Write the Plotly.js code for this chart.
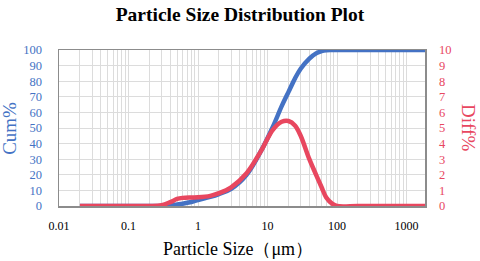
<!DOCTYPE html>
<html>
<head>
<meta charset="utf-8">
<script src="https://cdn.plot.ly/plotly-3.0.1.min.js"></script>
<style>html,body{margin:0;padding:0;background:#fff;}#chart{width:480px;height:261px;}</style>
</head>
<body>
<div id="chart"></div>
<script>
// Particle sizes (µm)
var sizes = [0.02, 0.05, 0.1, 0.2, 0.3, 0.4, 0.5, 0.6, 0.8, 1, 1.5, 2, 3, 5, 8, 12, 16, 20, 25, 30, 40, 50, 60, 70, 85, 100, 200, 500, 1000, 1850];
// Cumulative % (left axis)
var cumPct = [0, 0, 0, 0, 0, 0.4, 1.0, 1.5, 2.6, 3.8, 5.8, 7.6, 11, 20, 35, 51, 64, 73, 82, 88, 94.5, 97.8, 99.3, 99.9, 100, 100, 100, 100, 100, 100];
// Differential % (right axis)
var diffPct = [0, 0, 0, 0, 0.05, 0.25, 0.45, 0.52, 0.55, 0.56, 0.65, 0.82, 1.2, 2.1, 3.5, 4.9, 5.4, 5.45, 5.15, 4.5, 3.0, 2.0, 1.2, 0.55, 0.15, 0, 0, 0, 0, 0];
var xTicks = [0.01, 0.1, 1, 10, 100, 1000];
var xTickText = ['0.01', '0.1', '1', '10', '100', '1000'];

var blue = '#4472C4', red = '#E8475F';
var serif = 'Liberation Serif, Times New Roman, serif';

var traces = [
  {x: sizes, y: cumPct, type: 'scatter', mode: 'lines', line: {color: blue, width: 4.5, shape: 'spline', smoothing: 1}, yaxis: 'y', hoverinfo: 'skip'},
  {x: sizes, y: diffPct, type: 'scatter', mode: 'lines', line: {color: red, width: 4.5, shape: 'spline', smoothing: 1}, yaxis: 'y2', hoverinfo: 'skip'}
];

var frame = '#8c8c8c';
var layout = {
  width: 480, height: 261,
  margin: {l: 59, r: 55, t: 50, b: 54.5, pad: 0},
  paper_bgcolor: '#fff', plot_bgcolor: '#fff',
  showlegend: false,
  title: {text: 'Particle Size Distribution Plot', x: 0.5, xref: 'container', xanchor: 'center', y: 1 - 14/261, yref: 'container', yanchor: 'middle', font: {family: serif, size: 19.5, color: '#000', weight: 700}},
  xaxis: {
    type: 'log', range: [-2, 3.266],
    tickvals: xTicks, ticktext: xTickText,
    showgrid: true, gridcolor: '#dcdcdc', gridwidth: 1,
    minor: {dtick: 'D1', showgrid: true, gridcolor: '#dcdcdc', gridwidth: 1, ticks: ''},
    showline: true, linecolor: frame, linewidth: 1.5, mirror: true,
    ticks: 'outside', ticklen: 8, tickcolor: 'rgba(0,0,0,0)',
    tickfont: {family: serif, size: 12, color: '#000'},
    zeroline: false
  },
  yaxis: {
    range: [0, 100], dtick: 10,
    showgrid: true, gridcolor: '#dcdcdc', gridwidth: 1,
    showline: true, linecolor: frame, linewidth: 1.5, mirror: true,
    ticks: 'outside', ticklen: 13, tickcolor: 'rgba(0,0,0,0)',
    tickfont: {family: serif, size: 12.5, color: blue},
    zeroline: false
  },
  yaxis2: {
    range: [0, 10], dtick: 1, overlaying: 'y', side: 'right',
    showgrid: false,
    showline: true, linecolor: frame, linewidth: 1.5,
    ticks: 'outside', ticklen: 10, tickcolor: 'rgba(0,0,0,0)',
    tickfont: {family: serif, size: 12.5, color: red},
    zeroline: false
  },
  annotations: [
    {text: 'Cum%', xref: 'paper', yref: 'paper', x: -0.137, y: 0.5, xanchor: 'center', yanchor: 'middle', textangle: -90, showarrow: false, font: {family: serif, size: 19, color: blue}},
    {text: 'Diff%', xref: 'paper', yref: 'paper', x: 1.12, y: 0.5, xanchor: 'center', yanchor: 'middle', textangle: 90, showarrow: false, font: {family: serif, size: 19, color: red}},
    {text: 'Particle Size（μm）', xref: 'paper', yref: 'paper', x: 0.49, y: -0.278, xanchor: 'center', yanchor: 'middle', showarrow: false, font: {family: serif, size: 18, color: '#000'}}
  ]
};

Plotly.newPlot('chart', traces, layout, {staticPlot: true, displayModeBar: false});
</script>
</body>
</html>
